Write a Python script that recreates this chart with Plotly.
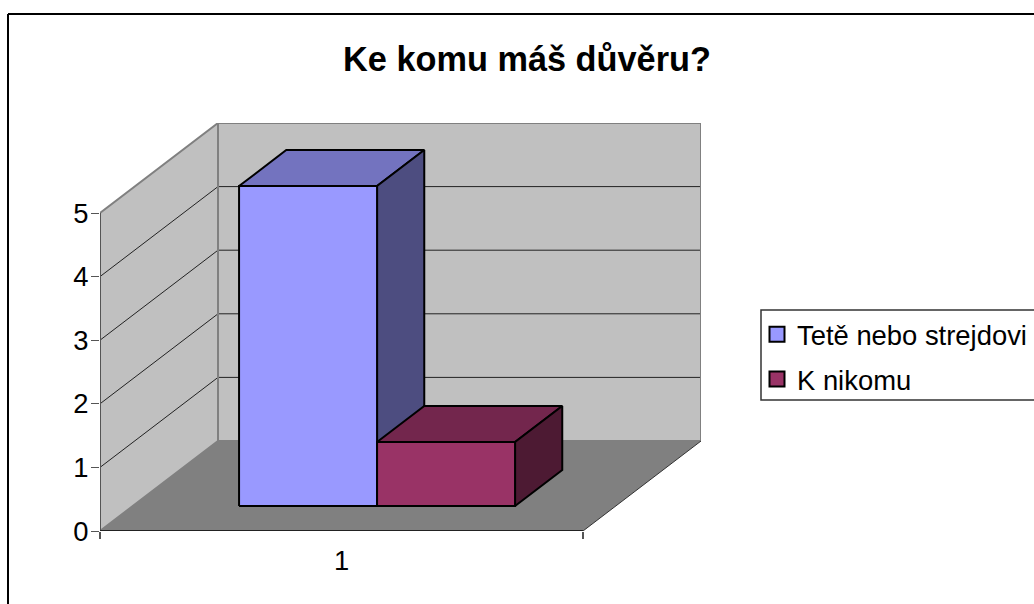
import plotly.graph_objects as go

title = "Ke komu máš důvěru?"
categories = ["1"]
series_names = ["Tetě nebo strejdovi", "K nikomu"]
series_values = [5, 1]
front_colors = ["#9999FF", "#993366"]
top_colors = ["#7373BF", "#73264D"]
side_colors = ["#4D4D80", "#4D1A33"]
y_ticks = [0, 1, 2, 3, 4, 5]
wall_color = "#C0C0C0"
floor_color = "#808080"

# Layout geometry (pixels); the canvas is wider than the window, which crops it
W, H = 1034, 604
CANVAS_W = W + 40
L, R, T, B = 100, 701, 123, 531
X_UNIT, Y_UNIT = 483.0, 63.6
DEPTH_DX, DEPTH_DY = 118 / X_UNIT, 90 / Y_UNIT
BAR_D0, BAR_D1 = 0.278, 0.678
BAR_SCALE = 1.006
GAP, BAR_W = 0.22, 0.2857
y_max = y_ticks[-1]
x_end = (R - L) / X_UNIT
y_end = (B - T) / Y_UNIT


def proj(x, y, d):
    return x + d * DEPTH_DX, y + d * DEPTH_DY


def poly(points, fill, line_color=None, line_width=0):
    xs, ys = zip(*(proj(*p) for p in points + [points[0]]))
    return go.Scatter(
        x=xs, y=ys, mode="lines", fill="toself", fillcolor=fill,
        line=dict(color=line_color or fill, width=line_width),
        hoverinfo="skip", showlegend=False, cliponaxis=False,
    )


def polyline(points, color, width):
    xs, ys = [], []
    for p in points:
        if p is None:
            xs.append(None)
            ys.append(None)
        else:
            a, b = proj(*p)
            xs.append(a)
            ys.append(b)
    return go.Scatter(
        x=xs, y=ys, mode="lines", line=dict(color=color, width=width),
        hoverinfo="skip", showlegend=False, cliponaxis=False,
    )


fig = go.Figure()

# Walls and floor
fig.add_trace(poly([(0, 0, 0), (0, y_max, 0), (0, y_max, 1), (0, 0, 1)], wall_color))
fig.add_trace(poly([(0, 0, 1), (1, 0, 1), (1, y_max, 1), (0, y_max, 1)], wall_color))
fig.add_trace(poly([(0, 0, 0), (1, 0, 0), (1, 0, 1), (0, 0, 1)], floor_color))

# Gridlines
grid = []
for v in y_ticks[1:-1]:
    grid += [(0, v, 0), (0, v, 1), (1, v, 1), None]
fig.add_trace(polyline(grid, "#222222", 1))

# Wall edges
fig.add_trace(polyline([(0, y_max, 0), (0, y_max, 1), (1, y_max, 1), (1, 0, 1)], floor_color, 2))
fig.add_trace(polyline([(0, 0, 1), (0, y_max, 1), None, (0, 0, 0), (0, 0, 1), (1, 0, 1)], floor_color, 2))
fig.add_trace(polyline([(1, 0, 0), (1, 0, 1)], "#333333", 1))

# Axis lines
fig.add_trace(polyline([(0, 0, 0), (0, y_max, 0)], "#555555", 2))
fig.add_trace(polyline([(0, 0, 0), (1, 0, 0)], "#222222", 2))

# Bars
for i, v in enumerate(series_values):
    x0 = GAP + i * BAR_W
    x1 = x0 + BAR_W
    h = v * BAR_SCALE
    fig.add_trace(poly([(x0, h, BAR_D0), (x1, h, BAR_D0), (x1, h, BAR_D1), (x0, h, BAR_D1)],
                       top_colors[i], "#000000", 2))
    fig.add_trace(poly([(x1, 0, BAR_D0), (x1, 0, BAR_D1), (x1, h, BAR_D1), (x1, h, BAR_D0)],
                       side_colors[i], "#000000", 2))
    fig.add_trace(poly([(x0, 0, BAR_D0), (x1, 0, BAR_D0), (x1, h, BAR_D0), (x0, h, BAR_D0)],
                       front_colors[i], "#000000", 2))

# Legend entries
for i, name in enumerate(series_names):
    fig.add_trace(go.Scatter(
        x=[None], y=[None], mode="markers", name=name, legendgroup=name,
        marker=dict(symbol="square", size=15, color=front_colors[i],
                    line=dict(color="#000000", width=2)),
    ))


def px(x):
    return (x - L) / (R - L)


def py(y):
    return (B - y) / (B - T)


frame_line = dict(color="#000000", width=2)
shapes = [
    dict(type="line", xref="paper", yref="paper", x0=px(8), x1=px(CANVAS_W + 5), y0=py(14), y1=py(14), line=frame_line),
    dict(type="line", xref="paper", yref="paper", x0=px(8), x1=px(8), y0=py(14), y1=py(H + 5), line=frame_line),
    dict(type="rect", xref="paper", yref="paper", x0=px(761), x1=px(CANVAS_W + 5), y0=py(310), y1=py(400),
         line=dict(color="#333333", width=1.5), fillcolor="#FFFFFF", layer="below"),
]

FONT = "Liberation Sans"
fig.update_layout(
    width=CANVAS_W, height=H,
    margin=dict(l=L, r=CANVAS_W - R, t=T, b=H - B, pad=0),
    paper_bgcolor="#FFFFFF", plot_bgcolor="rgba(0,0,0,0)",
    font=dict(family=FONT, color="#000000", size=27.4),
    title=dict(text="<b>%s</b>" % title, x=527 / CANVAS_W, xanchor="center", xref="container",
               y=1 - 59 / H, yanchor="middle", yref="container",
               font=dict(family=FONT, size=34.3, color="#000000")),
    xaxis=dict(range=[0, x_end], tickmode="array", tickvals=[0.5], ticktext=categories,
               ticks="outside", ticklen=0, tickcolor="#555555", showgrid=False, zeroline=False,
               showline=False, ticklabelstandoff=5, fixedrange=True,
               minor=dict(tickmode="array", tickvals=[0, 1], ticks="outside", ticklen=7,
                          tickcolor="#555555", tickwidth=2, showgrid=False)),
    yaxis=dict(range=[0, y_end], tickmode="array", tickvals=y_ticks, ticks="outside", ticklen=8,
               tickcolor="#555555", tickwidth=1, showgrid=False, zeroline=False, showline=False,
               ticklabelstandoff=-3, fixedrange=True),
    legend=dict(x=px(757), y=py(310), xanchor="left", yanchor="top", bgcolor="rgba(0,0,0,0)",
                borderwidth=0, tracegroupgap=6, traceorder="grouped",
                font=dict(family=FONT, size=27.4, color="#000000")),
    shapes=shapes,
)

fig.write_html("out.html", config=dict(displayModeBar=False),
               post_script="document.body.style.margin='0';document.body.style.overflow='hidden';")
